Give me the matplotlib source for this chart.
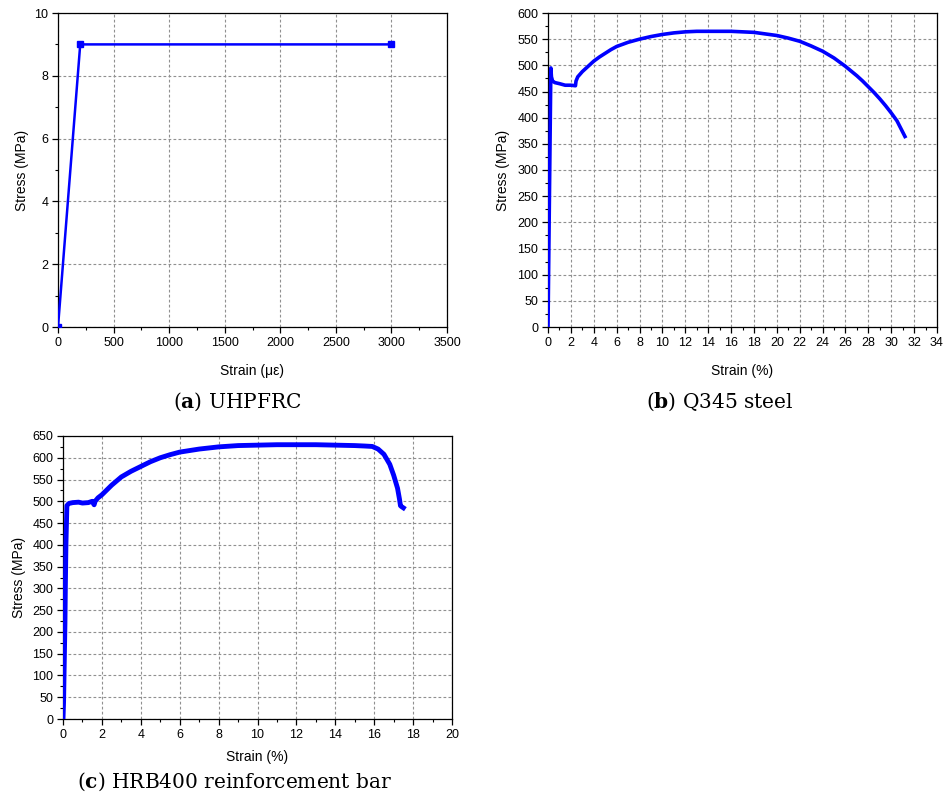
import numpy as np
import matplotlib
matplotlib.use("Agg")
import matplotlib.pyplot as plt
from matplotlib.ticker import MultipleLocator

plt.rcParams['font.family'] = ['Liberation Sans', 'DejaVu Sans']
plt.rcParams['mathtext.fontset'] = 'dejavuserif'

# (a) UHPFRC
a_strain = [0, 200, 3000]      # micro-strain
a_stress = [0, 9, 9]           # MPa

# (b) Q345 steel
b_strain = [0, 0.12, 0.25, 0.3, 0.4, 0.6, 1.0, 1.5, 2.0, 2.4, 2.45, 2.6, 2.8, 3.0, 3.5,
            4, 4.5, 5, 5.5, 6, 7, 8, 9, 10, 11, 12, 13, 14, 15, 16, 17, 18, 19, 20,
            21, 22, 23, 24, 25, 26, 26.5, 27, 27.5, 28, 28.5, 29, 29.5, 30, 30.5, 31.2]
b_stress = [0, 240, 495, 478, 470, 467, 465, 462, 462, 461, 470, 478, 483, 488, 498,
            508, 516, 523, 530, 536, 544, 550, 555, 559, 562, 564, 565, 565, 565, 565, 564, 563, 560, 557,
            552, 546, 537, 527, 514, 498, 489, 480, 470, 459, 448, 436, 423, 409, 394, 364]

# (c) HRB400 reinforcement bar
c_strain = [0, 0.03, 0.06, 0.1, 0.12, 0.15, 0.2, 0.3, 0.5, 0.8, 1.0, 1.3, 1.5, 1.6,
            1.65, 1.8, 2, 2.5, 3, 3.5, 4, 4.5, 5, 5.5, 6, 7, 8, 9, 10, 11, 12, 13, 14,
            15, 15.5, 15.9, 16.2, 16.5, 16.8, 17.0, 17.2, 17.3, 17.35, 17.4, 17.5]
c_stress = [0, 40, 120, 220, 300, 400, 490, 495, 497, 498, 496, 497, 500, 492,
            500, 508, 515, 537, 556, 569, 580, 591, 600, 607, 613, 620, 625, 628, 629, 630, 630, 630, 629,
            628, 627, 626, 620, 608, 585, 560, 530, 505, 490, 488, 485]

captions = ["a", "b", "c"]
caption_text = [") UHPFRC", ") Q345 steel", ") HRB400 reinforcement bar"]

W, H = 951, 798
fig = plt.figure(figsize=(W / 100, H / 100), dpi=100)


def px_axes(l, t, r, b):
    return fig.add_axes([l / W, 1 - b / H, (r - l) / W, (b - t) / H])


def style(ax, xlim, ylim, xmaj, xmin, ymaj, ymin, xlabel):
    ax.set_xlim(*xlim)
    ax.set_ylim(*ylim)
    ax.xaxis.set_major_locator(MultipleLocator(xmaj))
    ax.xaxis.set_minor_locator(MultipleLocator(xmin))
    ax.yaxis.set_major_locator(MultipleLocator(ymaj))
    ax.yaxis.set_minor_locator(MultipleLocator(ymin))
    ax.tick_params(which='major', direction='out', length=4, width=0.9, labelsize=9, pad=3)
    ax.tick_params(which='minor', direction='out', length=2.5, width=0.8)
    ax.grid(True, which='major', color='#909090', linestyle=(0, (2.5, 2)), linewidth=0.8)
    for s in ax.spines.values():
        s.set_linewidth(0.9)
    ax.set_xlabel(xlabel, fontsize=10)
    ax.set_ylabel("Stress (MPa)", fontsize=10)
    ax.xaxis.label.set_va('center')
    ax.yaxis.label.set_va('center')


# panel a
ax1 = px_axes(58, 13, 447, 327)
ax1.plot(a_strain, a_stress, color='#0000ff', lw=1.8, marker='s', ms=4.5, zorder=3)
style(ax1, (0, 3500), (0, 10), 500, 250, 2, 1, "Strain (\u03bc\u03b5)")
ax1.xaxis.set_label_coords(0.5, (327 - 371) / 314)
ax1.yaxis.set_label_coords((22 - 58) / 389, 0.5)

# panel b
ax2 = px_axes(548, 13, 937, 327)
ax2.plot(b_strain, b_stress, color='#0000ff', lw=2.6, zorder=3)
style(ax2, (0, 34), (0, 600), 2, 1, 50, 25, "Strain (%)")
ax2.xaxis.set_label_coords(0.5, (327 - 371) / 314)
ax2.yaxis.set_label_coords((503 - 548) / 389, 0.5)

# panel c
ax3 = px_axes(63, 436, 452, 719)
ax3.plot(c_strain, c_stress, color='#0000ff', lw=3.5, zorder=3)
style(ax3, (0, 20), (0, 650), 2, 1, 50, 25, "Strain (%)")
ax3.xaxis.set_label_coords(0.5, (719 - 757) / 283)
ax3.yaxis.set_label_coords((19 - 63) / 389, 0.5)

# captions
cap_pos = [(237, 402), (720, 402), (235, 782)]
for (cx, cy), letter, txt in zip(cap_pos, captions, caption_text):
    fig.text(cx / W, 1 - cy / H, "(" + r"$\mathbf{" + letter + "}$" + txt,
             family='DejaVu Serif', fontsize=14.5, ha='center', va='center')

fig.savefig("out.png", dpi=100)
